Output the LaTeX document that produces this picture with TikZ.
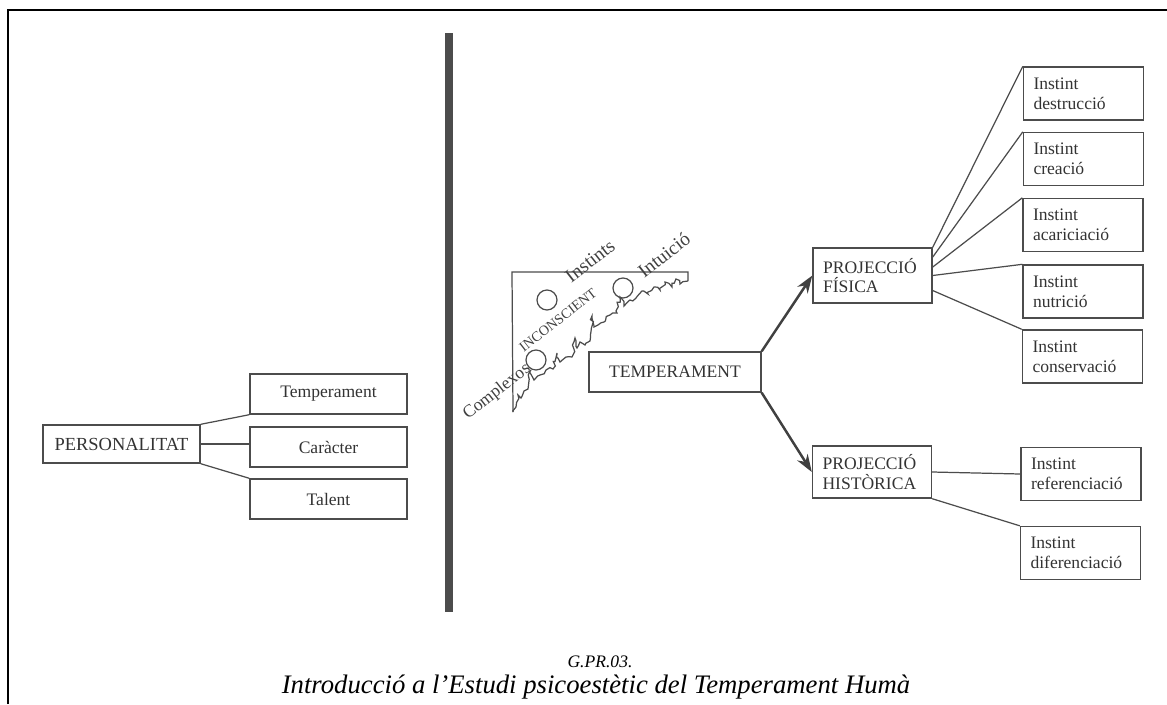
\documentclass[tikz,border=0pt]{standalone}
\usepackage{fontspec}
\setmainfont{Liberation Serif}
\usetikzlibrary{arrows.meta, decorations.pathmorphing}

\begin{document}
\begin{tikzpicture}[x=0.02cm, y=-0.02cm,
    caixa/.style={draw=black!70, line width=0.8pt, text=black!80,
      font=\fontsize{10}{11}\selectfont, inner sep=0pt,
      minimum height=0.8cm, align=center},
    proj/.style={caixa, align=left, text width=1.98cm, inner xsep=0.2cm},
    instint/.style={caixa, align=left, text width=2.0cm, inner xsep=0.2cm,
      minimum height=1.06cm, font=\fontsize{10}{11.5}\selectfont},
    lligam/.style={draw=black!70, line width=0.7pt},
    fletxa/.style={draw=black!75, line width=1.4pt,
      -{Stealth[length=10pt,width=7pt]}},
    girat/.style={rotate=38, text=black!75, inner sep=0pt}]

  \useasboundingbox (0,0) rectangle (1167,704);
  \draw[line width=1.1pt] (8,704) -- (8,10) -- (1167,10);
  \draw[line width=4pt, black!70] (449,33) -- (449,612);

  \node[caixa, minimum width=3.14cm, minimum height=0.76cm, font=\fontsize{10.5}{12}\selectfont] (pers) at (121.5,444) {PERSONALITAT};
  \node[caixa, minimum width=3.14cm] (temp) at (328.5,394) {Temperament};
  \node[caixa, minimum width=3.14cm] (carac) at (328.5,447) {Caràcter};
  \node[caixa, minimum width=3.14cm] (tal) at (328.5,499) {Talent};

  \draw[lligam] (pers.north east) -- (temp.south west);
  \draw[lligam] (pers.east) -- (pers.east -| carac.west);
  \draw[lligam] (pers.south east) -- (tal.north west);

  \coordinate (inc1) at (512,272);
  \coordinate (inc2) at (688,272);
  \coordinate (inc3) at (688,281);
  \coordinate (inc4) at (513,412);
  \draw[lligam] (inc4) -- (inc1) -- (inc2) -- (inc3);
  \pgfmathsetseed{17}
  \draw[lligam, decorate, decoration={random steps, segment length=2pt, amplitude=1.1pt}]
    (inc3) -- (680,284) -- (676,279) -- (672,287) -- (665,282) -- (660,290)
    -- (654,287) -- (648,294) -- (642,291) -- (636,298) -- (630,300)
    -- (624,306) -- (620,297) -- (617,313) -- (610,315) -- (604,322)
    -- (598,325) -- (594,327) -- (592,316) -- (590,341) -- (585,345)
    -- (580,342) -- (577,348) -- (575,338) -- (572,357) -- (566,357)
    -- (560,362) -- (557,353) -- (553,369) -- (546,370) -- (540,375)
    -- (534,380) -- (531,370) -- (528,389) -- (524,391) -- (521,398)
    -- (518,395) -- (516,407) -- (inc4);

  \node[draw=black!70, line width=0.7pt, circle, minimum size=0.4cm] (cercle1) at (547,300) {};
  \node[draw=black!70, line width=0.7pt, circle, minimum size=0.4cm] (cercle2) at (623,288) {};
  \node[draw=black!70, line width=0.7pt, circle, minimum size=0.4cm] (cercle3) at (536,360) {};

  \node[girat, font=\fontsize{10}{12}\selectfont] (complexos) at (497,392) {Complexos};
  \node[girat, font=\fontsize{8}{10}\selectfont] (incons) at (558,320) {INCONSCIENT};
  \node[girat, font=\fontsize{11}{13}\selectfont] (instints) at (590,261) {Instints};
  \node[girat, font=\fontsize{11}{13}\selectfont] (intuicio) at (664,255) {Intuició};

  \node[caixa, minimum width=3.44cm] (tempr) at (675,372) {TEMPERAMENT};

  \node[proj, minimum height=1.1cm] (fis) at (872.5,275.5) {PROJECCIÓ\\FÍSICA};
  \node[proj, minimum height=1.04cm] (hist) at (872,472) {PROJECCIÓ\\HISTÒRICA};

  \draw[fletxa] (tempr.north east) -- (fis.west);
  \draw[fletxa] (tempr.south east) -- (hist.west);

  \node[instint] (destr) at (1083.5,93.5) {Instint\\destrucció};
  \node[instint] (crea) at (1083.5,159) {Instint\\creació};
  \node[instint] (acar) at (1083,225) {Instint\\acariciació};
  \node[instint] (nutr) at (1083,291.5) {Instint\\nutrició};
  \node[instint] (cons) at (1082.5,356.5) {Instint\\conservació};
  \node[instint] (refer) at (1081,474) {Instint\\referenciació};
  \node[instint] (difer) at (1080.5,553) {Instint\\diferenciació};

  \draw[lligam] (fis.north east) -- (destr.north west);
  \draw[lligam] (fis.17) -- (crea.north west);
  \draw[lligam] (fis.8) -- (acar.north west);
  \draw[lligam] (fis.east) -- (nutr.north west);
  \draw[lligam] (fis.-14) -- (cons.north west);
  \draw[lligam] (hist.east) -- (refer.west);
  \draw[lligam] (hist.south east) -- (difer.north west);

  \node[font=\itshape\fontsize{10}{12}\selectfont, anchor=base] (codi) at (600,667) {G.PR.03.};
  \node[font=\itshape\fontsize{15.2}{18}\selectfont, anchor=base] (titol) at (596,693)
    {Introducció a l’Estudi psicoestètic del Temperament Humà};
\end{tikzpicture}
\end{document}
